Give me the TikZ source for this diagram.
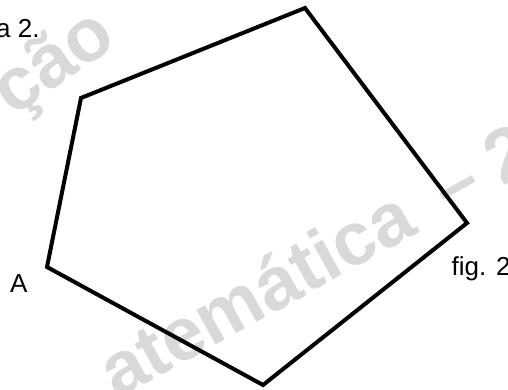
\documentclass[tikz,border=0pt]{standalone}
\usepackage{fontspec}
\setmainfont{Liberation Sans}
\definecolor{wm}{RGB}{217,217,217}
\begin{document}
\begin{tikzpicture}[x=1pt,y=-1pt,
  label/.style={font=\fontsize{26}{30}\selectfont, inner sep=0pt, anchor=base west},
  water/.style={font=\fontsize{75}{80}\selectfont\bfseries, text=wm, inner sep=0pt, anchor=base west},
  edge/.style={line width=4pt, line join=miter}]
\useasboundingbox (0,0) rectangle (508,390);
\begin{scope}
\clip (0,0) rectangle (508,390);
\node[water, rotate=35] (w1) at (13,118) {ção};
\node[water, rotate=29] (w2) at (117,400) {atemática\hspace{0.45em}–\hspace{0.25em}2};
\end{scope}
\coordinate (T) at (305,8);
\coordinate (UL) at (81,98);
\coordinate (A) at (47,267);
\coordinate (B) at (263,385);
\coordinate (R) at (467,223);
\draw[edge] (T) -- (UL) -- (A) -- (B) -- (R) -- cycle;
\node[label] (la) at (10,292) {A};
\node[label] (lf) at (451.5,275.5) {fig. 2};
\node[label] (lt) at (-4,37.5) {a 2.};
\end{tikzpicture}
\end{document}
